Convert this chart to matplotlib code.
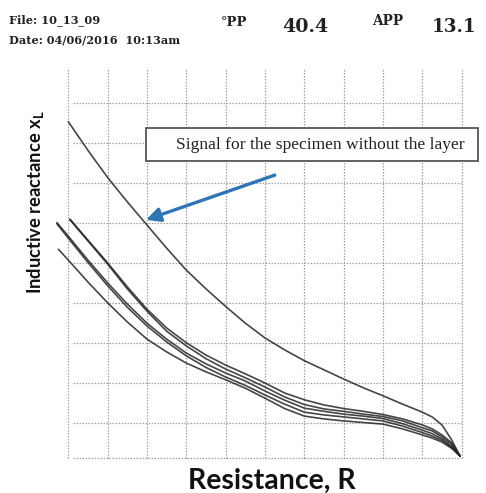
import matplotlib
matplotlib.use("Agg")
import matplotlib.pyplot as plt
from matplotlib.patches import Rectangle

# ---- data (grid units) ----
grid_x = list(range(0, 11))
grid_y = [0.1, 1, 2, 3, 4, 5, 6, 7, 8, 9]

x_read = [0, 0.5, 1, 1.5, 2, 2.5, 3, 3.5, 4, 4.5, 5, 5.5, 6, 6.5, 7, 7.5, 8, 8.5,
          9, 9.25, 9.5, 9.75, 9.96]

# signal for the specimen without the layer
x_nolayer = x_read
y_nolayer = [8.54, 7.82, 7.14, 6.53, 5.95, 5.37, 4.82, 4.35, 3.91, 3.49, 3.12, 2.82,
             2.55, 2.32, 2.09, 1.87, 1.67, 1.46, 1.26, 1.14, 0.94, 0.56, 0.16]

# specimens with the layer
x_b = [0.04] + x_read[1:]
y_b1 = [6.10, 5.57, 5.00, 4.40, 3.84, 3.37, 3.00, 2.69, 2.44, 2.22, 1.99, 1.74,
        1.57, 1.44, 1.35, 1.28, 1.20, 1.09, 0.94, 0.84, 0.69, 0.49, 0.16]
y_b2 = [6.08, 5.55, 4.97, 4.35, 3.79, 3.29, 2.92, 2.60, 2.34, 2.12, 1.89, 1.64,
        1.45, 1.34, 1.28, 1.21, 1.15, 1.04, 0.87, 0.79, 0.64, 0.45, 0.16]
x_a = [-0.29] + x_read
y_a1 = [6.01, 5.67, 5.07, 4.50, 3.97, 3.49, 3.09, 2.74, 2.47, 2.24, 2.04, 1.79,
        1.56, 1.36, 1.28, 1.21, 1.16, 1.10, 0.97, 0.81, 0.72, 0.59, 0.40, 0.16]
y_a2 = [5.98, 5.62, 5.01, 4.43, 3.89, 3.42, 3.02, 2.67, 2.38, 2.14, 1.93, 1.69,
        1.46, 1.26, 1.19, 1.14, 1.09, 1.04, 0.91, 0.75, 0.66, 0.55, 0.37, 0.16]
x_c = [-0.25] + x_read
y_c = [5.34, 5.07, 4.52, 4.00, 3.52, 3.09, 2.77, 2.49, 2.27, 2.07, 1.86, 1.61,
       1.35, 1.16, 1.09, 1.04, 1.00, 0.96, 0.84, 0.69, 0.61, 0.51, 0.35, 0.16]

layer_curves = [(x_b, y_b1), (x_b, y_b2), (x_a, y_a1), (x_a, y_a2), (x_c, y_c)]

annotation_text = "Signal for the specimen without the layer"
arrow_tail = (5.25, 7.20)
arrow_tip = (1.975, 6.08)

file_label = "File: 10_13_09"
date_label = "Date: 04/06/2016  10:13am"
pp_label, pp_value = "°PP", "40.4"
app_label, app_value = "APP", "13.1"
x_label = "Resistance, R"
y_label = r"Inductive reactance x$_{\mathregular{L}}$"

W, H = 486, 493
fig = plt.figure(figsize=(W / 100, H / 100), dpi=100)
fig.patch.set_facecolor("white")

ax_l, ax_r, ax_t, ax_b = 50, 482, 60, 465
ax = fig.add_axes([ax_l / W, 1 - ax_b / H, (ax_r - ax_l) / W, (ax_b - ax_t) / H])
ax.set_xlim((ax_l - 68.3) / 39.33, (ax_r - 68.3) / 39.33)
ax.set_ylim((462.4 - ax_b) / 39.9, (462.4 - ax_t) / 39.9)
ax.axis("off")

grid_kw = dict(color="#a0a0a0", lw=0.9, linestyle=(0, (1.2, 1.2)), zorder=1)
ax.vlines(grid_x, grid_y[0], 9.88, **grid_kw)
ax.hlines(grid_y, 0.12, 9.98, **grid_kw)

line_kw = dict(color="#262626", lw=1.2, alpha=0.85, zorder=3,
               solid_capstyle="round", solid_joinstyle="round")
for xs, ys in layer_curves:
    ax.plot(xs, ys, **line_kw)
ax.plot(x_nolayer, y_nolayer, **line_kw)

# annotation box
bx0, bx1, by0, by1 = 1.976, 10.417, 7.55, 8.38
ax.add_patch(Rectangle((bx0, by0), bx1 - bx0, by1 - by0, facecolor="white",
                       edgecolor="#555555", lw=1.3, zorder=4, clip_on=False))
ax.text(6.40, (by0 + by1) / 2, annotation_text, ha="center", va="center",
        family="Liberation Serif", fontsize=12.6, color="#222222", zorder=5)

ax.annotate("", xy=arrow_tip, xytext=arrow_tail,
            arrowprops=dict(arrowstyle="-|>,head_length=0.6,head_width=0.3",
                            color="#2e75b6", lw=2.4, mutation_scale=14,
                            shrinkA=0, shrinkB=0), zorder=6)

def ftext(px, py, s, **kw):
    fig.text(px / W, 1 - py / H, s, **kw)

serif = dict(family="DejaVu Serif", fontweight="bold", color="#222222", va="center", ha="left")
ftext(9, 20, file_label, fontsize=8.2, **serif)
ftext(9, 40, date_label, fontsize=8.1, **serif)
ftext(221, 22, pp_label, fontsize=9.5, **serif)
ftext(282, 27, pp_value, fontsize=13.8, **serif)
ftext(372, 21, app_label, fontsize=9.8, **serif)
ftext(432, 27, app_value, fontsize=13.2, **serif)

ftext(272, 481, x_label, ha="center", va="center", family="Lato",
      fontweight="bold", color="#111111", fontsize=20.5)
ftext(35, 202, y_label, ha="center", va="center", rotation=90,
      family="Lato", fontweight="bold", color="#111111", fontsize=13.2)

fig.savefig("out.png", dpi=100, facecolor="white")
